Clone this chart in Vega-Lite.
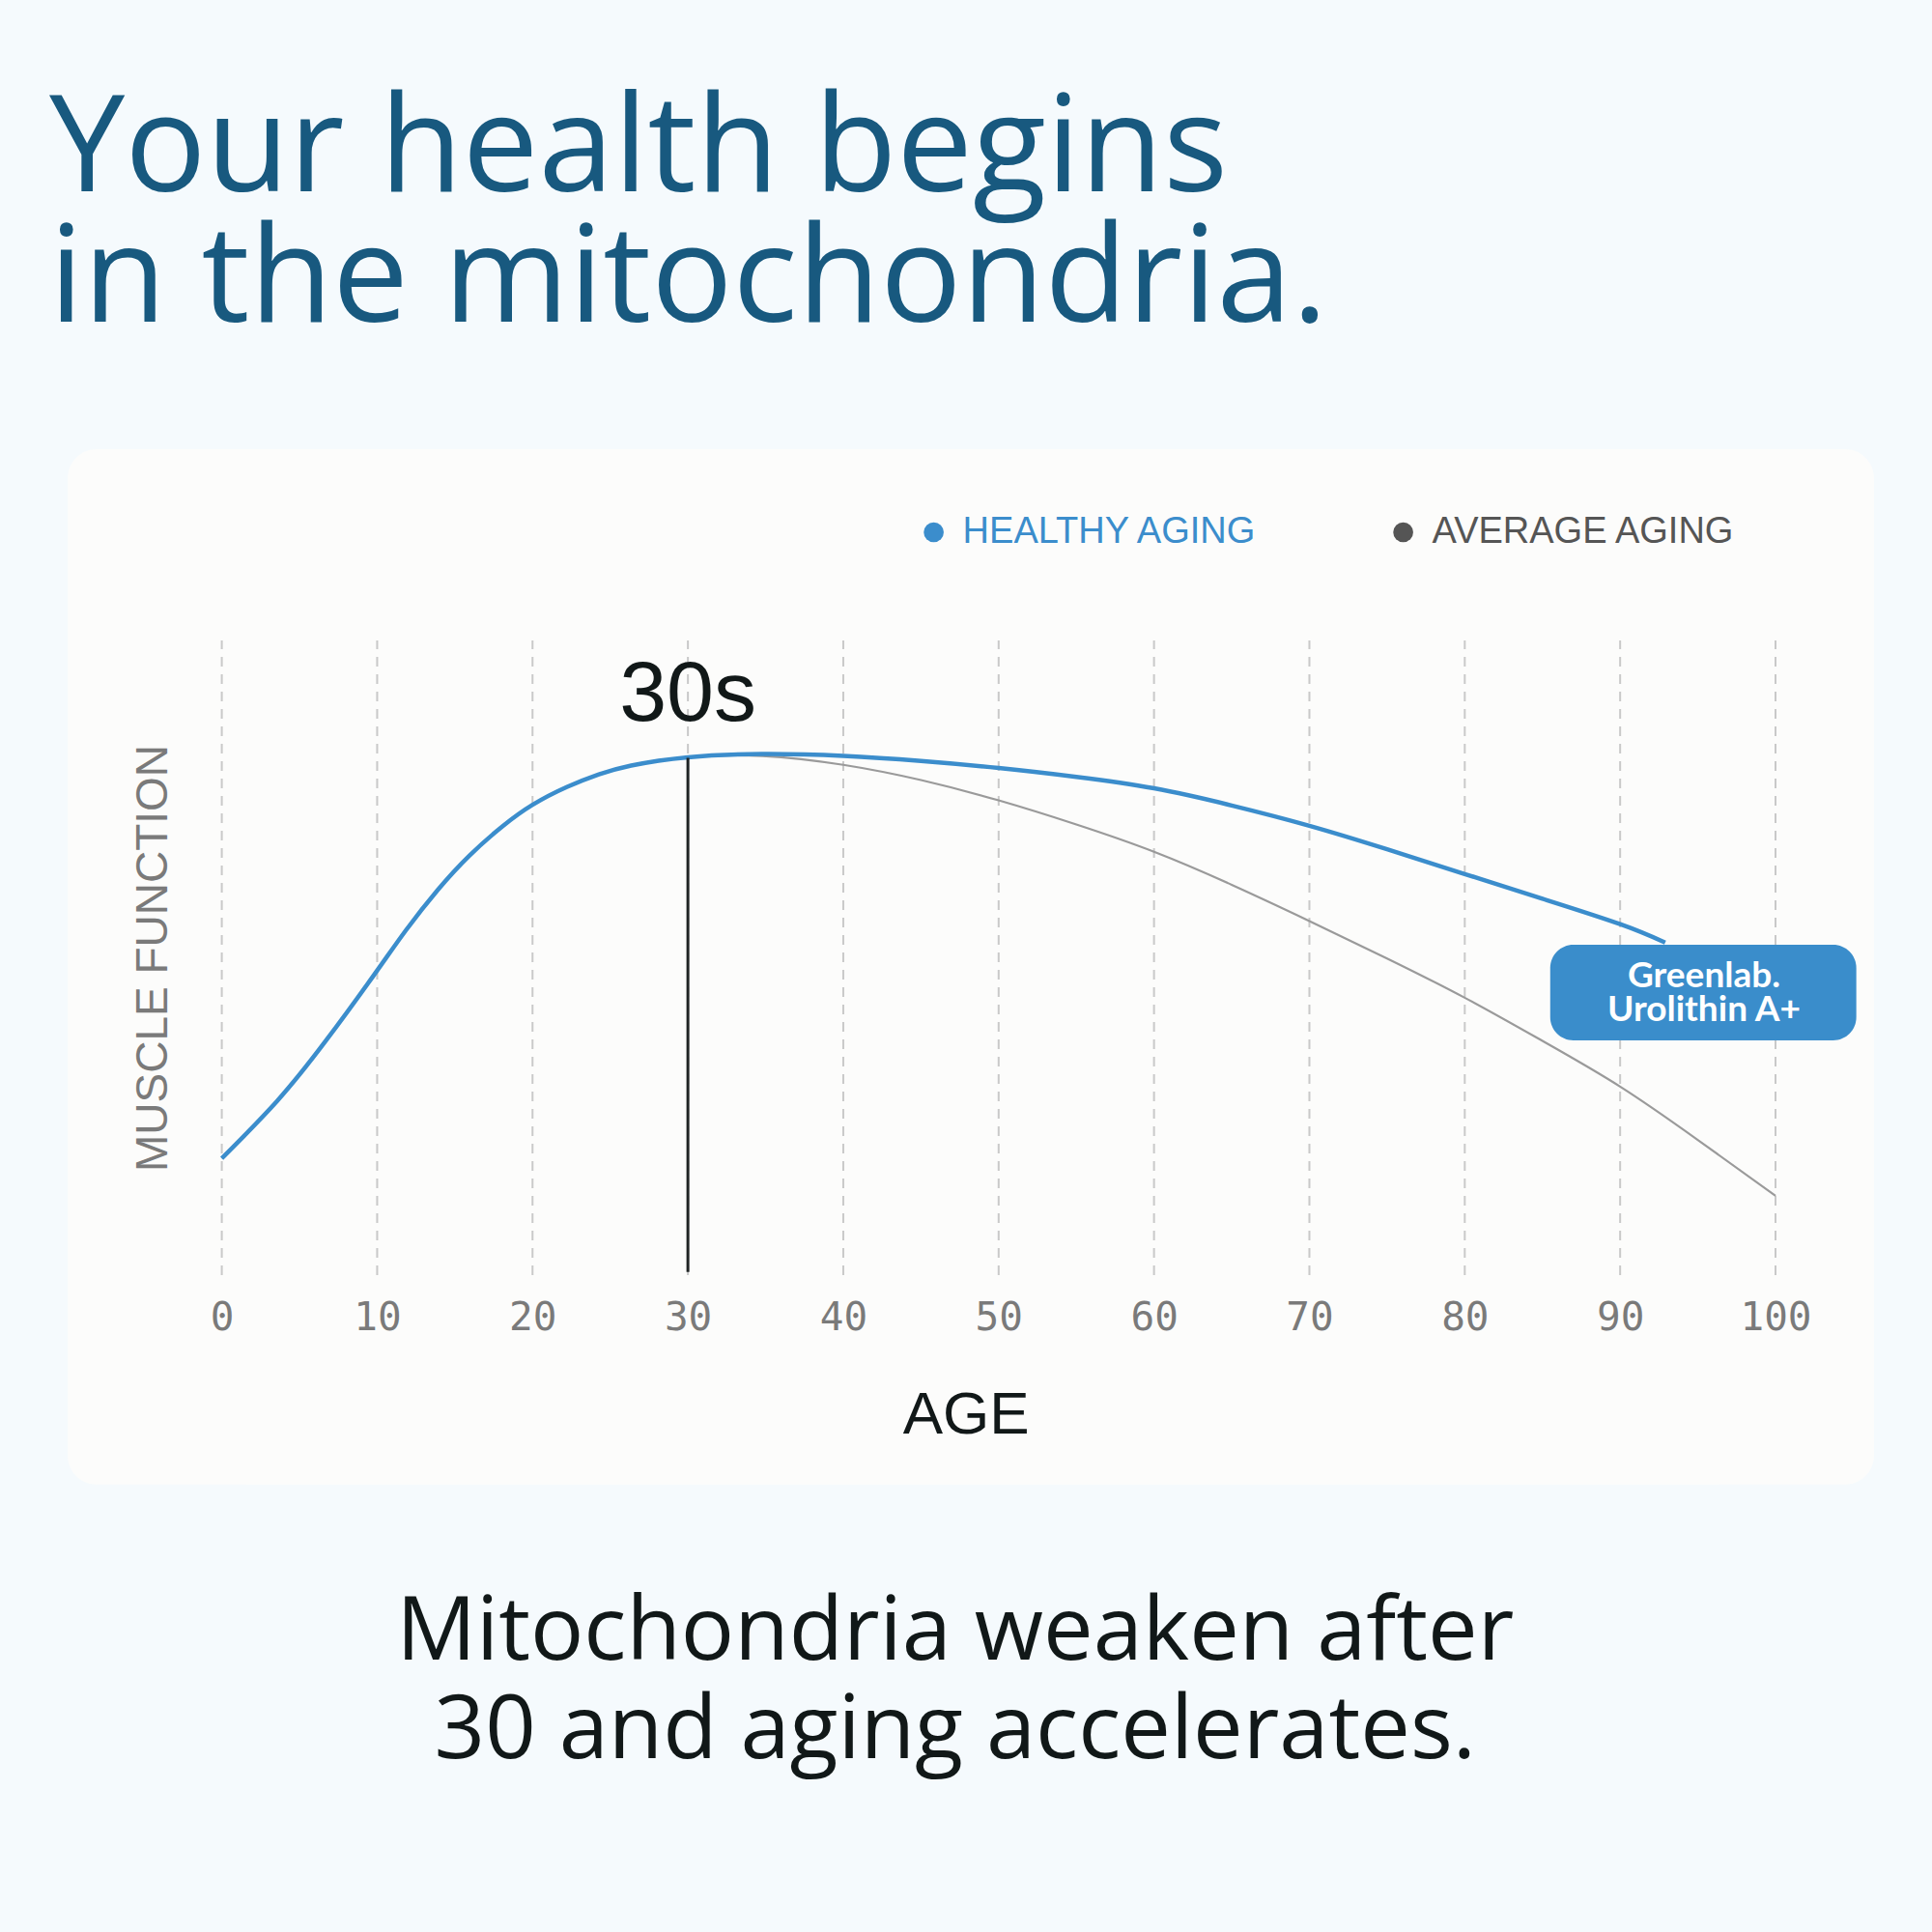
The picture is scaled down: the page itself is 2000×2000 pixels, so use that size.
{
  "$schema": "https://vega.github.io/schema/vega-lite/v6.json",
  "autosize": "none",
  "width": 1608.4,
  "height": 657,
  "padding": {"left": 229.6, "top": 663, "right": 162, "bottom": 680},
  "background": "#f5fafd",
  "view": {"stroke": null},
  "title": {
    "text": ["Your health begins", "in the mitochondria."],
    "anchor": "start",
    "frame": "group",
    "dx": -178.6,
    "offset": -8,
    "font": "Open Sans",
    "fontSize": 140,
    "fontWeight": "normal",
    "color": "#18597f",
    "lineHeight": 135,
    "baseline": "alphabetic"
  },
  "config": {
    "axis": {"grid": false, "domain": false, "ticks": false, "zindex": 2},
    "legend": {"symbolStrokeWidth": 0}
  },
  "layer": [
    {
      "data": {"values": [{"age": -9.92, "age2": 106.34, "value": 130.14, "value2": -33.0}]},
      "mark": {"type": "rect", "cornerRadius": 30, "color": "#fcfcfb", "clip": false},
      "encoding": {
        "x": {"field": "age", "type": "quantitative", "scale": {"domain": [0, 100], "nice": false, "zero": false},
          "axis": {"zindex": 2, "values": [0, 10, 20, 30, 40, 50, 60, 70, 80, 90, 100], "labelFlush": false, "labelOverlap": false, "labelFont": "DejaVu Sans Mono", "labelFontSize": 41, "labelColor": "#7a7a7a", "labelPadding": 24, "title": "AGE", "titleFont": "Liberation Sans", "titleFontSize": 62, "titleFontWeight": "normal", "titleColor": "#111818", "titleX": 770, "titleY": 163, "titleBaseline": "alphabetic", "titleAlign": "center", "titleAnchor": "start"}},
        "x2": {"field": "age2"},
        "y": {"field": "value", "type": "quantitative", "scale": {"domain": [0, 100], "nice": false, "zero": false},
          "axis": {"zindex": 2, "labels": false, "title": "MUSCLE FUNCTION", "titleFont": "Liberation Sans", "titleFontSize": 46, "titleFontWeight": "normal", "titleColor": "#7a7a7a", "titlePadding": 47}},
        "y2": {"field": "value2"}
      }
    },
    {
      "data": {"values": [{"age": 0}, {"age": 10}, {"age": 20}, {"age": 30}, {"age": 40}, {"age": 50}, {"age": 60}, {"age": 70}, {"age": 80}, {"age": 90}, {"age": 100}]},
      "mark": {"type": "rule", "color": "#c9c9c9", "strokeWidth": 2, "strokeDash": [10, 8]},
      "encoding": {
        "x": {"field": "age", "type": "quantitative"},
        "y": {"datum": 0, "type": "quantitative"},
        "y2": {"datum": 100}
      }
    },
    {
      "data": {"values": [
        {"age": 0, "value": 18.4, "series": "AVERAGE AGING"},
        {"age": 3.55, "value": 27.4, "series": "AVERAGE AGING"},
        {"age": 6.66, "value": 36.8, "series": "AVERAGE AGING"},
        {"age": 9.77, "value": 47.2, "series": "AVERAGE AGING"},
        {"age": 11.84, "value": 54.3, "series": "AVERAGE AGING"},
        {"age": 13.9, "value": 60.7, "series": "AVERAGE AGING"},
        {"age": 15.98, "value": 66.2, "series": "AVERAGE AGING"},
        {"age": 18.06, "value": 70.7, "series": "AVERAGE AGING"},
        {"age": 20, "value": 74.1, "series": "AVERAGE AGING"},
        {"age": 22.2, "value": 76.9, "series": "AVERAGE AGING"},
        {"age": 24.27, "value": 78.9, "series": "AVERAGE AGING"},
        {"age": 26.35, "value": 80.3, "series": "AVERAGE AGING"},
        {"age": 30, "value": 81.6, "series": "AVERAGE AGING"},
        {"age": 34.8, "value": 81.8, "series": "AVERAGE AGING"},
        {"age": 40, "value": 80.4, "series": "AVERAGE AGING"},
        {"age": 45, "value": 78.0, "series": "AVERAGE AGING"},
        {"age": 50, "value": 74.8, "series": "AVERAGE AGING"},
        {"age": 55, "value": 71.0, "series": "AVERAGE AGING"},
        {"age": 60, "value": 66.7, "series": "AVERAGE AGING"},
        {"age": 65, "value": 61.5, "series": "AVERAGE AGING"},
        {"age": 70, "value": 55.8, "series": "AVERAGE AGING"},
        {"age": 75, "value": 49.9, "series": "AVERAGE AGING"},
        {"age": 80, "value": 43.7, "series": "AVERAGE AGING"},
        {"age": 85, "value": 36.9, "series": "AVERAGE AGING"},
        {"age": 90, "value": 29.7, "series": "AVERAGE AGING"},
        {"age": 95, "value": 21.3, "series": "AVERAGE AGING"},
        {"age": 100, "value": 12.5, "series": "AVERAGE AGING"}
      ]},
      "mark": {"type": "line", "interpolate": "natural", "strokeWidth": 2.2},
      "encoding": {
        "x": {"field": "age", "type": "quantitative"},
        "y": {"field": "value", "type": "quantitative"},
        "color": {"field": "series", "type": "nominal",
          "scale": {"domain": ["HEALTHY AGING", "AVERAGE AGING"], "range": ["#3b8dcc", "#9a9a9a"]},
          "legend": {"orient": "none", "legendX": 718, "legendY": -131, "direction": "horizontal", "title": null,
            "symbolType": "circle", "symbolSize": 430, "labelFont": "Liberation Sans", "labelFontSize": 38, "labelOffset": 11, "labelLimit": 0, "columnPadding": 131,
            "encode": {
              "symbols": {"update": {"fill": {"signal": "datum.value === 'HEALTHY AGING' ? '#3b8dcc' : '#555555'"}, "strokeWidth": {"value": 0}, "opacity": {"value": 1}}},
              "labels": {"update": {"fill": {"signal": "datum.value === 'HEALTHY AGING' ? '#3b8dcc' : '#555555'"}}}
            }}
        }
      }
    },
    {
      "data": {"values": [
        {"age": 0, "value": 18.4, "series": "HEALTHY AGING"},
        {"age": 3.55, "value": 27.4, "series": "HEALTHY AGING"},
        {"age": 6.66, "value": 36.8, "series": "HEALTHY AGING"},
        {"age": 9.77, "value": 47.2, "series": "HEALTHY AGING"},
        {"age": 11.84, "value": 54.3, "series": "HEALTHY AGING"},
        {"age": 13.9, "value": 60.7, "series": "HEALTHY AGING"},
        {"age": 15.98, "value": 66.2, "series": "HEALTHY AGING"},
        {"age": 18.06, "value": 70.7, "series": "HEALTHY AGING"},
        {"age": 20, "value": 74.1, "series": "HEALTHY AGING"},
        {"age": 22.2, "value": 76.9, "series": "HEALTHY AGING"},
        {"age": 24.27, "value": 78.9, "series": "HEALTHY AGING"},
        {"age": 26.35, "value": 80.3, "series": "HEALTHY AGING"},
        {"age": 30, "value": 81.6, "series": "HEALTHY AGING"},
        {"age": 34.8, "value": 82.1, "series": "HEALTHY AGING"},
        {"age": 40, "value": 81.8, "series": "HEALTHY AGING"},
        {"age": 45, "value": 81.0, "series": "HEALTHY AGING"},
        {"age": 50, "value": 79.9, "series": "HEALTHY AGING"},
        {"age": 55, "value": 78.5, "series": "HEALTHY AGING"},
        {"age": 60, "value": 76.7, "series": "HEALTHY AGING"},
        {"age": 65, "value": 74.0, "series": "HEALTHY AGING"},
        {"age": 70, "value": 70.8, "series": "HEALTHY AGING"},
        {"age": 75, "value": 67.1, "series": "HEALTHY AGING"},
        {"age": 80, "value": 63.2, "series": "HEALTHY AGING"},
        {"age": 85, "value": 59.3, "series": "HEALTHY AGING"},
        {"age": 90, "value": 55.3, "series": "HEALTHY AGING"},
        {"age": 92.9, "value": 52.4, "series": "HEALTHY AGING"}
      ]},
      "mark": {"type": "line", "interpolate": "natural", "strokeWidth": 4.5, "clip": false},
      "encoding": {
        "x": {"field": "age", "type": "quantitative"},
        "y": {"field": "value", "type": "quantitative"},
        "color": {"field": "series", "type": "nominal"}
      }
    },
    {
      "data": {"values": [{"age": 30, "value": 81.5, "value2": 0.5}]},
      "mark": {"type": "rule", "color": "#1f2424", "strokeWidth": 3},
      "encoding": {
        "x": {"field": "age", "type": "quantitative"},
        "y": {"field": "value", "type": "quantitative"},
        "y2": {"field": "value2"}
      }
    },
    {
      "data": {"values": [{"age": 30, "value": 87.4, "label": "30s"}]},
      "mark": {"type": "text", "font": "Liberation Sans", "fontSize": 88, "color": "#111818", "align": "center", "baseline": "alphabetic", "clip": false},
      "encoding": {
        "x": {"field": "age", "type": "quantitative"},
        "y": {"field": "value", "type": "quantitative"},
        "text": {"field": "label"}
      }
    },
    {
      "data": {"values": [{"age": 85.5, "age2": 105.2, "value": 52.05, "value2": 37.0}]},
      "mark": {"type": "rect", "cornerRadius": 24, "color": "#3a8dcb", "clip": false},
      "encoding": {
        "x": {"field": "age", "type": "quantitative"},
        "x2": {"field": "age2"},
        "y": {"field": "value", "type": "quantitative"},
        "y2": {"field": "value2"}
      }
    },
    {
      "data": {"values": [{"age": 95.4, "value": 45.36, "label": "Greenlab.\nUrolithin A+"}]},
      "mark": {"type": "text", "font": "Lato", "fontSize": 37, "fontWeight": "bold", "color": "#ffffff", "align": "center", "baseline": "alphabetic", "lineBreak": "\n", "lineHeight": 35, "clip": false},
      "encoding": {
        "x": {"field": "age", "type": "quantitative"},
        "y": {"field": "value", "type": "quantitative"},
        "text": {"field": "label"}
      }
    },
    {
      "data": {"values": [{"age": 47.2, "value": -60.6, "label": "Mitochondria weaken after\n30 and aging accelerates."}]},
      "mark": {"type": "text", "font": "Open Sans", "fontSize": 92, "color": "#111818", "align": "center", "baseline": "alphabetic", "lineBreak": "\n", "lineHeight": 102, "clip": false},
      "encoding": {
        "x": {"field": "age", "type": "quantitative"},
        "y": {"field": "value", "type": "quantitative"},
        "text": {"field": "label"}
      }
    }
  ]
}
